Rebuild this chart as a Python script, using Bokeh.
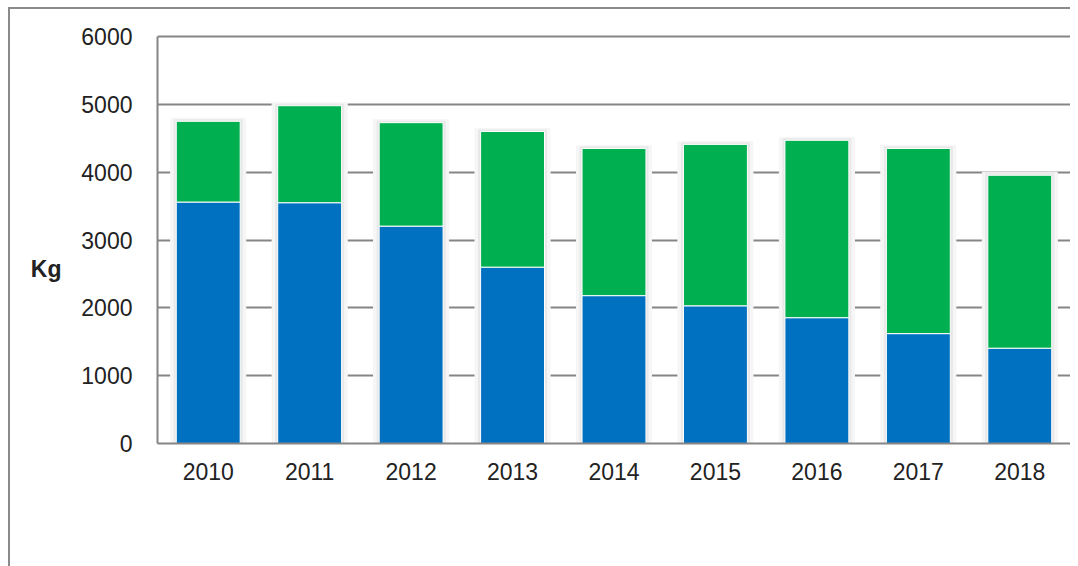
from bokeh.plotting import figure
from bokeh.models import FactorRange, Range1d, Legend, LegendItem, LinearAxis, FixedTicker
from bokeh.embed import file_html
from bokeh.resources import INLINE

years = ["2010", "2011", "2012", "2013", "2014", "2015", "2016", "2017", "2018"]
receptbelagd = [3560, 3550, 3205, 2600, 2180, 2030, 1855, 1620, 1405]
receptfri = [1190, 1430, 1525, 2000, 2170, 2380, 2615, 2730, 2550]
y_ticks = [0, 1000, 2000, 3000, 4000, 5000, 6000]
series_names = ["Receptbelagd försäljning", "Receptfri försäljning"]
colors = ["#0070C0", "#00B050"]
unit_label = "Kg"
unit_label_at = 2580

FONT = "Liberation Sans"
TXT = "#222222"
FS = "23px"

totals = [a + b for a, b in zip(receptbelagd, receptfri)]

p = figure(x_range=FactorRange(*years, range_padding=0), y_range=Range1d(0, 6030),
           frame_width=913, frame_height=409, output_backend="svg", toolbar_location=None,
           min_border_left=157, min_border_right=0, min_border_top=34, min_border_bottom=0)
p.border_fill_color = None
p.styles = {
    "background-image": "linear-gradient(#8a8a8a,#8a8a8a), linear-gradient(#8a8a8a,#8a8a8a)",
    "background-size": "2px 100%, 100% 2px",
    "background-position": "8px 7px, 8px 7px",
    "background-repeat": "no-repeat",
}

p.outline_line_color = None
p.background_fill_color = "white"

# soft shadows behind the bars
p.vbar(x=years, top=[t + 45 for t in totals], bottom=0, width=0.74, color="#f6f6f6")
p.vbar(x=years, top=[t + 22 for t in totals], bottom=0, width=0.67, color="#e8e8e8")

r1 = p.vbar(x=years, bottom=0, top=receptbelagd, width=0.63, fill_color=colors[0],
            line_color="white", line_width=1)
r2 = p.vbar(x=years, bottom=receptbelagd, top=totals, width=0.63, fill_color=colors[1],
            line_color="white", line_width=1)

p.xgrid.grid_line_color = None
p.ygrid.grid_line_color = "#858585"
p.ygrid.grid_line_width = 2
p.yaxis.ticker = y_ticks
p.yaxis.bounds = (0, 6000)

for ax in (p.xaxis[0], p.yaxis[0]):
    ax.axis_line_color = "#858585"
    ax.axis_line_width = 2
    ax.major_tick_line_color = None
    ax.minor_tick_line_color = None
    ax.major_label_text_font = FONT
    ax.major_label_text_font_size = FS
    ax.major_label_text_color = TXT
p.yaxis.major_label_standoff = 19
p.xaxis.major_label_standoff = 13

# unit label drawn as the single tick label of an otherwise invisible axis
kg_axis = LinearAxis(ticker=FixedTicker(ticks=[unit_label_at]),
                     major_label_overrides={unit_label_at: unit_label},
                     major_label_text_font=FONT, major_label_text_font_size=FS,
                     major_label_text_font_style="bold", major_label_text_color=TXT,
                     major_label_standoff=11,
                     axis_line_color=None, major_tick_line_color=None, minor_tick_line_color=None)
p.add_layout(kg_axis, "left")

legend = Legend(items=[LegendItem(label=series_names[0], renderers=[r1]),
                       LegendItem(label=series_names[1], renderers=[r2])],
                orientation="horizontal", location="top_center", border_line_color=None,
                background_fill_color=None, glyph_width=8, glyph_height=8, label_standoff=7,
                spacing=56, padding=4, margin=0,
                label_text_font=FONT, label_text_font_size=FS, label_text_color=TXT)
p.add_layout(legend, "below")

open("out.html", "w").write(file_html(p, INLINE))
